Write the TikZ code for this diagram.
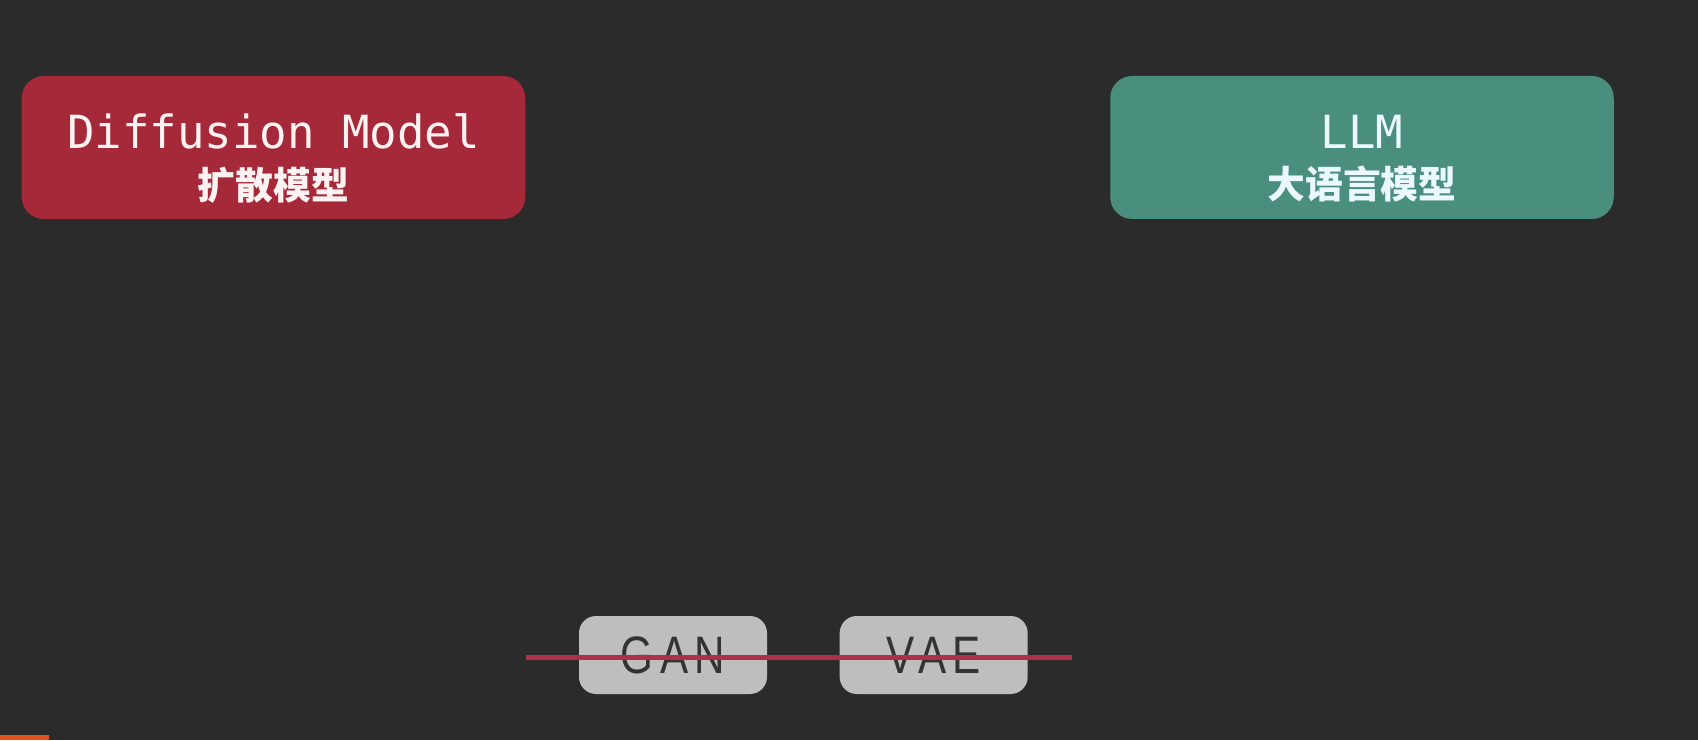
\documentclass[tikz,border=0pt]{standalone}
\usepackage{fontspec}
\usepackage{tikz}
\usetikzlibrary{positioning}
\setmonofont{DejaVu Sans Mono}
\newfontfamily\cjk{Noto Sans CJK SC}
\newfontfamily\narrowf[FakeStretch=0.8,LetterSpace=12]{Liberation Sans}
\definecolor{bgdark}{HTML}{2B2B2B}
\definecolor{diffred}{HTML}{A52939}
\definecolor{llmgreen}{HTML}{4A8F7D}
\definecolor{oldgray}{HTML}{BEBEBE}
\definecolor{strikered}{HTML}{B02F48}
\definecolor{barorange}{HTML}{E0531C}

\begin{document}
\begin{tikzpicture}
    \tikzstyle{model} = [rectangle, rounded corners=0.44cm, minimum width=10.07cm, minimum height=2.86cm, inner sep=0pt]
    \tikzstyle{modeltext} = [align=center, inner sep=0pt, yshift=-0.22cm]
    \tikzstyle{oldmodel} = [rectangle, rounded corners=0.34cm, fill=oldgray, minimum width=3.76cm, minimum height=1.56cm, text=black!80, font=\narrowf\fontsize{30}{30}\selectfont]
    
    % background
    \fill[bgdark] (0,0) rectangle (33.96,14.8);
    \useasboundingbox (0,0) rectangle (33.96,14.8);
    \fill[barorange] (0,0) rectangle (0.98,0.1);
    
    % Diffusion Model
    \node[model, fill=diffred] (diff) at (5.47,11.85) {};
    \node[modeltext, text=white!95!red] (difftext) at (diff.center) {
        {\ttfamily\fontsize{26}{26}\selectfont Diffusion Model}\\[9pt]
        {\cjk\bfseries\fontsize{21.5}{22}\selectfont 扩散模型}
    };
    
    % LLM
    \node[model, fill=llmgreen] (llm) at (27.24,11.85) {};
    \node[modeltext, text=cyan!8!white] (llmtext) at (llm.center) {
        {\ttfamily\fontsize{26}{26}\selectfont LLM}\\[9pt]
        {\cjk\bfseries\fontsize{21.5}{22}\selectfont 大语言模型}
    };
    
    % GAN and VAE
    \node[oldmodel] (gan) at (13.46,1.7) {GAN};
    \node[oldmodel, right=1.44cm of gan] (vae) {VAE};
    
    % strike line
    \coordinate (strikeend) at (21.44,1.66);
    \draw[strikered, line width=0.1cm] (diff.east |- strikeend) -- (strikeend);
    
\end{tikzpicture}
\end{document}
